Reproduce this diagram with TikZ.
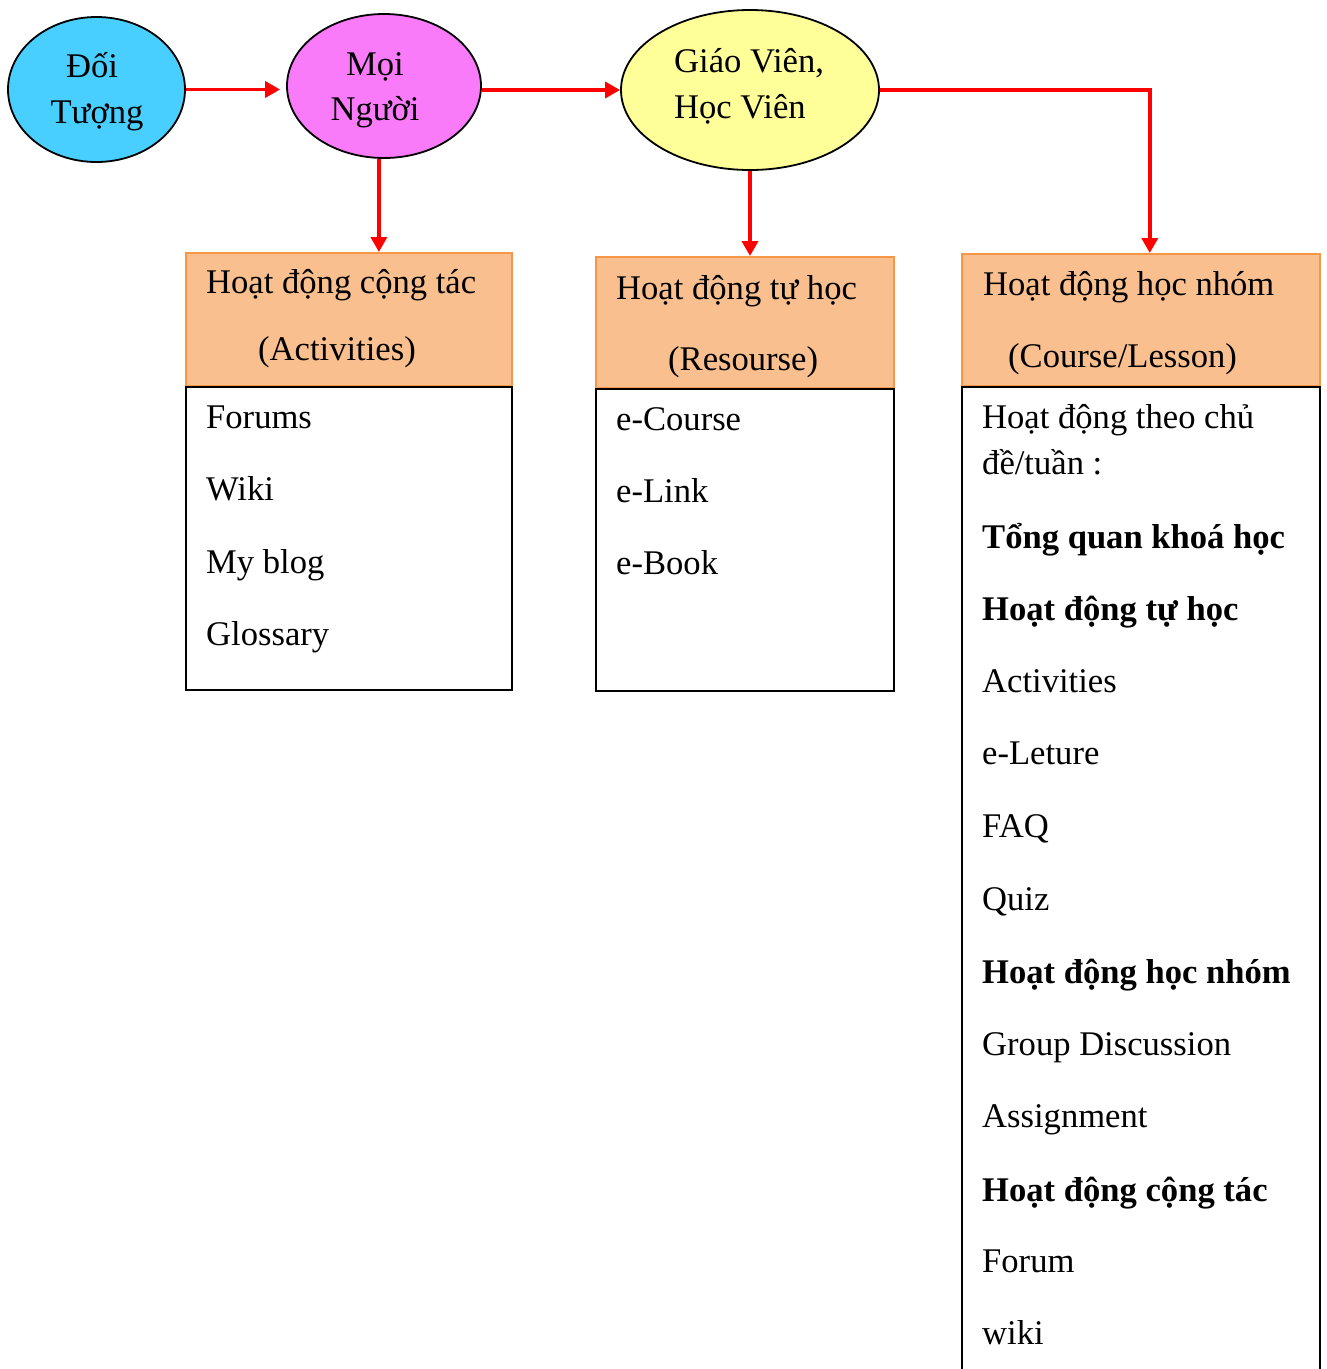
\documentclass[tikz,border=0pt]{standalone}
\usepackage{fontspec}
\setmainfont{Liberation Serif}
\usetikzlibrary{arrows.meta,shapes.geometric}
\definecolor{bubblecyan}{HTML}{48CFFF}
\definecolor{bubblepink}{HTML}{F97BF9}
\definecolor{bubbleyellow}{HTML}{FFFF99}
\definecolor{headfill}{HTML}{F9BF8F}
\definecolor{headline}{HTML}{F79646}
\begin{document}
\begin{tikzpicture}[x=1pt,y=-1pt,
  bubble/.style={ellipse,draw=black,line width=1.8pt,inner sep=0pt},
  headbox/.style={rectangle,draw=headline,fill=headfill,line width=1.6pt,inner sep=0pt,anchor=north west},
  bodybox/.style={rectangle,draw=black,line width=1.8pt,inner sep=0pt,anchor=north west},
  txt/.style={inner sep=0pt,anchor=base west,font=\fontsize{34.6}{40}\selectfont},
  ctxt/.style={inner sep=0pt,anchor=base,font=\fontsize{34.6}{40}\selectfont},
  btxt/.style={txt,font=\fontsize{34.6}{40}\selectfont\bfseries},
  flow/.style={draw=red,line width=3.6pt,-{Triangle[length=15pt,width=16pt]}}
]
\useasboundingbox (0,0) rectangle (1327,1369);
\fill[white] (0,0) rectangle (1327,1369);

% top row of ellipses
\node[bubble,fill=bubblecyan,minimum width=177pt,minimum height=145pt] (e1) at (96.5,89.5) {};
\node[bubble,fill=bubblepink,minimum width=194pt,minimum height=144pt] (e2) at (384,86) {};
\node[bubble,fill=bubbleyellow,minimum width=258pt,minimum height=160pt] (e3) at (750,90) {};

\node[ctxt] (e1a) at (92,77) {Đối};
\node[ctxt] (e1b) at (97,123) {Tượng};
\node[ctxt] (e2a) at (375,75) {Mọi};
\node[ctxt] (e2b) at (375,120) {Người};
\node[txt] (e3a) at (674,72) {Giáo Viên,};
\node[txt] (e3b) at (674,118) {Học Viên};

% boxes: orange header above a white list
\node[headbox,minimum width=326pt,minimum height=133pt] (h1) at (185,252) {};
\node[bodybox,minimum width=326pt,minimum height=303pt] (b1) at (185,386) {};
\node[headbox,minimum width=298pt,minimum height=131pt] (h2) at (595,256) {};
\node[bodybox,minimum width=298pt,minimum height=302pt] (b2) at (595,388) {};
\node[headbox,minimum width=358pt,minimum height=132pt] (h3) at (961,253) {};
\node[bodybox,minimum width=358pt,minimum height=1040pt] (b3) at (961,386) {};

% connectors
\draw[flow,shorten >=6pt] (e1.east) -- (e1.east -| e2.west);
\draw[flow] (e2.east |- e3.west) -- (e3.west);
\draw[flow] (e2.266) -- (e2.266 |- h1.north);
\draw[flow] (e3.south) -- (e3.south |- h2.north);
\draw[flow] (e3.east) -| ([xshift=9pt]h3.north);

% box 1
\node[txt] (h1a) at (206,293) {Hoạt động cộng tác};
\node[txt] (h1b) at (258,360) {(Activities)};
\node[txt] (l1a) at (206,428) {Forums};
\node[txt] (l1b) at (206,500) {Wiki};
\node[txt] (l1c) at (206,573) {My blog};
\node[txt] (l1d) at (206,645) {Glossary};

% box 2
\node[txt] (h2a) at (616,299) {Hoạt động tự học};
\node[txt] (h2b) at (668,370) {(Resourse)};
\node[txt] (l2a) at (616,430) {e-Course};
\node[txt] (l2b) at (616,502) {e-Link};
\node[txt] (l2c) at (616,574) {e-Book};

% box 3
\node[txt] (h3a) at (983,295) {Hoạt động học nhóm};
\node[txt] (h3b) at (1008,367) {(Course/Lesson)};
\node[txt] (l3a) at (982,428) {Hoạt động theo chủ};
\node[txt] (l3b) at (982,474) {đề/tuần :};
\node[btxt] (l3c) at (982,548) {Tổng quan khoá học};
\node[btxt] (l3d) at (982,620) {Hoạt động tự học};
\node[txt] (l3e) at (982,692) {Activities};
\node[txt] (l3f) at (982,764) {e-Leture};
\node[txt] (l3g) at (982,837) {FAQ};
\node[txt] (l3h) at (982,910) {Quiz};
\node[btxt] (l3i) at (982,983) {Hoạt động học nhóm};
\node[txt] (l3j) at (982,1055) {Group Discussion};
\node[txt] (l3k) at (982,1127) {Assignment};
\node[btxt] (l3l) at (982,1201) {Hoạt động cộng tác};
\node[txt] (l3m) at (982,1272) {Forum};
\node[txt] (l3n) at (982,1344) {wiki};
\end{tikzpicture}
\end{document}
